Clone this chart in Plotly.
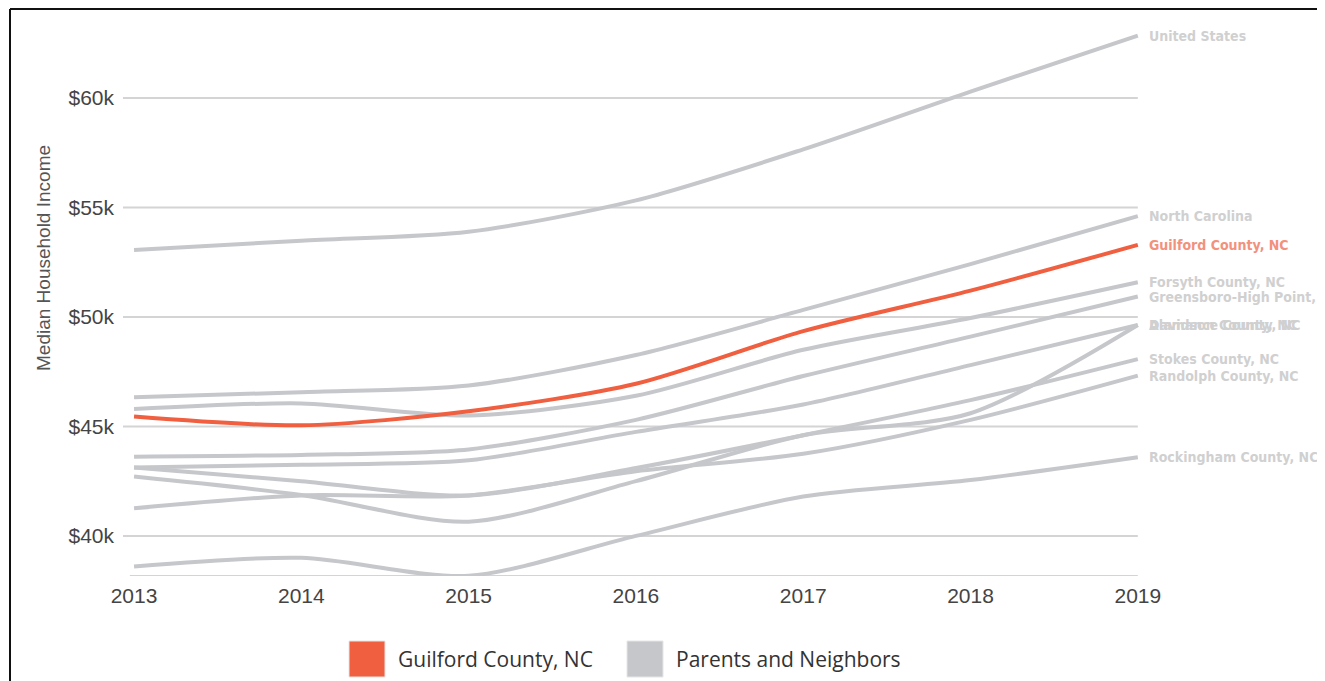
import plotly.graph_objects as go

years = [2013, 2014, 2015, 2016, 2017, 2018, 2019]

series_names = [
    "United States",
    "North Carolina",
    "Forsyth County, NC",
    "Greensboro-High Point, NC",
    "Alamance County, NC",
    "Davidson County, NC",
    "Stokes County, NC",
    "Randolph County, NC",
    "Rockingham County, NC",
    "Guilford County, NC",
]

us = [53050, 53480, 53890, 55320, 57650, 60290, 62840]
north_carolina = [46330, 46560, 46870, 48260, 50320, 52410, 54600]
forsyth = [45790, 46050, 45500, 46400, 48500, 49950, 51580]
greensboro_hp = [43620, 43700, 43950, 45300, 47300, 49100, 50930]
alamance = [43120, 43250, 43450, 44750, 46000, 47800, 49630]
davidson = [42710, 41870, 40650, 42500, 44600, 45600, 49630]
stokes = [43120, 42500, 41850, 43100, 44600, 46200, 48070]
randolph = [41260, 41850, 41850, 42950, 43750, 45300, 47320]
rockingham = [38600, 39000, 38180, 40000, 41800, 42550, 43590]
guilford = [45450, 45050, 45690, 46950, 49350, 51200, 53290]

series_values = [us, north_carolina, forsyth, greensboro_hp, alamance,
                 davidson, stokes, randolph, rockingham, guilford]

y_ticks = [40000, 45000, 50000, 55000, 60000]
legend_labels = ["Guilford County, NC", "Parents and Neighbors"]

RED = "#ef5f40"
GREY = "#c6c7cb"

Y_MIN, Y_MAX = 38170, 63100
X_MIN, X_MAX = 2012.934, 2019.025

# page offset of the figure (body margin) is 8px
OFF = 8
FIG_W, FIG_H = 1325 - OFF, 681 - OFF
M_L, M_T = 123 - OFF, 30 - OFF
PW, PH = 1019, 546
M_R = FIG_W - M_L - PW
M_B = FIG_H - M_T - PH

def px_x(p):
    return (p - 123) / PW

def px_y(p):
    return (576 - p) / PH

fig = go.Figure()

for name, vals in zip(series_names, series_values):
    is_focus = name == "Guilford County, NC"
    fig.add_trace(go.Scatter(
        x=years, y=vals, mode="lines", name=name,
        line=dict(color=RED if is_focus else GREY, width=4,
                  shape="spline", smoothing=0.8),
        showlegend=False, hoverinfo="x+y+name",
    ))

shapes = []
for v in y_ticks:
    shapes.append(dict(type="line", xref="x", yref="y", x0=X_MIN, x1=2019,
                       y0=v, y1=v, line=dict(color="#d4d4d4", width=2),
                       layer="below"))
shapes.append(dict(type="line", xref="x", yref="y", x0=2012.975, x1=2019,
                   y0=Y_MIN, y1=Y_MIN, line=dict(color="#d4d4d4", width=2),
                   layer="below"))

# frame (left and top edges visible)
shapes.append(dict(type="line", xref="paper", yref="paper",
                   x0=px_x(10), x1=px_x(1325), y0=px_y(9), y1=px_y(9),
                   line=dict(color="#111111", width=2)))
shapes.append(dict(type="line", xref="paper", yref="paper",
                   x0=px_x(10), x1=px_x(10), y0=px_y(9), y1=px_y(681),
                   line=dict(color="#111111", width=2)))

legend_colors = [RED, GREY]
legend_box_x = [349, 627]
legend_text_x = [396, 674]
for bx, col in zip(legend_box_x, legend_colors):
    shapes.append(dict(type="rect", xref="paper", yref="paper",
                       x0=px_x(bx), x1=px_x(bx + 36), y0=px_y(641), y1=px_y(677),
                       fillcolor=col, line=dict(color="#e6e6e6", width=1)))

annotations = []
for tx, lab in zip(legend_text_x, legend_labels):
    annotations.append(dict(xref="paper", yref="paper", x=px_x(tx), y=px_y(659),
                            text=lab, showarrow=False, xanchor="left", yanchor="middle",
                            font=dict(family="Open Sans, sans-serif", size=21, color="#333333")))

for name, vals in zip(series_names, series_values):
    is_focus = name == "Guilford County, NC"
    annotations.append(dict(xref="x", yref="y", x=years[-1], y=vals[-1], xshift=9,
                            text="<b>" + name + "</b>", showarrow=False,
                            xanchor="left", yanchor="middle",
                            font=dict(family="DejaVu Sans Condensed, sans-serif",
                                      size=14, color="#f2917c" if is_focus else "#d0d0d0")))

annotations.append(dict(xref="paper", yref="paper", x=px_x(44), y=px_y(258),
                        text="Median Household Income", textangle=-90, showarrow=False,
                        xanchor="center", yanchor="middle",
                        font=dict(family="Liberation Sans, Arial, sans-serif", size=19, color="#555555")))

fig.update_layout(
    width=FIG_W, height=FIG_H,
    margin=dict(l=M_L, r=M_R, t=M_T, b=M_B),
    paper_bgcolor="white", plot_bgcolor="white",
    shapes=shapes, annotations=annotations,
    xaxis=dict(range=[X_MIN, X_MAX], tickvals=years, ticktext=[str(y) for y in years],
               showgrid=False, zeroline=False, showline=False, ticks="",
               ticklabelstandoff=5,
               tickfont=dict(family="Liberation Sans, Arial, sans-serif", size=21, color="#444444")),
    yaxis=dict(range=[Y_MIN, Y_MAX], tickvals=y_ticks,
               ticktext=["$" + str(v // 1000) + "k" for v in y_ticks],
               showgrid=False, zeroline=False, showline=False, ticks="",
               ticklabelstandoff=8,
               tickfont=dict(family="Liberation Sans, Arial, sans-serif", size=21, color="#444444")),
    showlegend=False,
)

fig.write_html("out.html")
